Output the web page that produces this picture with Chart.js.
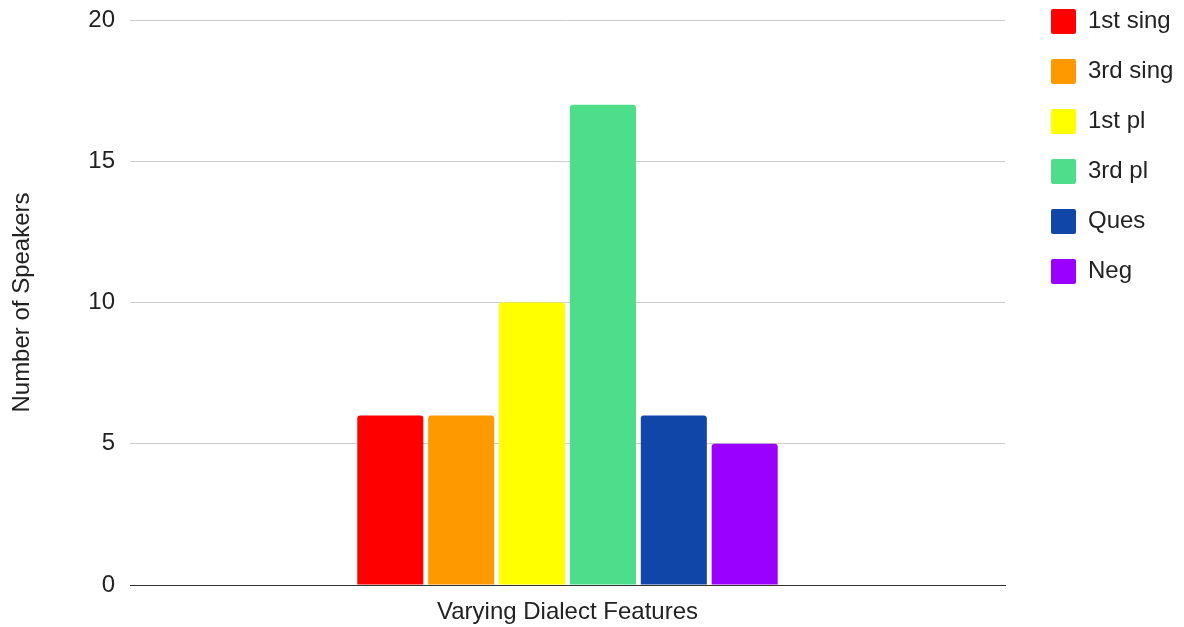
<!DOCTYPE html>
<html>
<head>
<meta charset="utf-8">
<title>Number of Speakers by Dialect Feature</title>
<script src="https://cdn.jsdelivr.net/npm/chart.js@4/dist/chart.umd.min.js"></script>
<style>
  html, body { margin: 0; padding: 0; background: #ffffff; }
  #wrap { width: 1184px; height: 627px; }
</style>
</head>
<body>
<div id="wrap"><canvas id="chart" width="1184" height="627"></canvas></div>
<script>
// Data
const categories = ['Varying Dialect Features'];
const seriesNames = ['1st sing', '3rd sing', '1st pl', '3rd pl', 'Ques', 'Neg'];
const seriesValues = [6, 6, 10, 17, 6, 5];
const seriesColors = ['#ff0000', '#ff9900', '#ffff00', '#4ddd8b', '#1146a9', '#9900ff'];
const yTicks = [0, 5, 10, 15, 20];

const FONT = '"Liberation Sans", Arial, sans-serif';
const TEXT = '#222222';
const FONT_SIZE = 24;

// Places the legend column next to the plot and lines it up with the top.
const legendPlacement = {
  id: 'legendPlacement',
  beforeLayout(chart) {
    const lg = chart.legend;
    if (lg && !lg._fixedWidth) {
      const fit = lg.fit.bind(lg);
      lg.fit = function () { fit(); this.width = 179; };
      lg._fixedWidth = true;
    }
  },
  afterLayout(chart) {
    const lg = chart.legend;
    if (!lg) return;
    const dx = (chart.chartArea.right + 21) - lg.left;
    const dy = -16 - lg.top;
    lg.left += dx; lg.right += dx;
    lg.top += dy; lg.bottom += dy;
  }
};

const datasets = seriesNames.map((name, i) => ({
  label: name,
  data: [seriesValues[i]],
  backgroundColor: seriesColors[i],
  borderWidth: 0,
  borderRadius: { topLeft: 3, topRight: 3, bottomLeft: 0, bottomRight: 0 },
  borderSkipped: 'start',
  categoryPercentage: 0.486,
  barPercentage: 0.932
}));

new Chart(document.getElementById('chart'), {
  type: 'bar',
  data: { labels: categories, datasets },
  options: {
    responsive: false,
    animation: false,
    layout: { padding: { top: 20, left: 0, right: 0, bottom: 0 } },
    plugins: {
      tooltip: { enabled: false },
      legend: {
        position: 'right',
        align: 'start',
        labels: {
          boxWidth: 25,
          boxHeight: 25,
          padding: 25,
          useBorderRadius: true,
          borderRadius: 2,
          color: TEXT,
          font: { family: FONT, size: FONT_SIZE }
        }
      }
    },
    scales: {
      x: {
        afterFit(scale) {
          scale.height = 42;
          scale.paddingLeft = 0;
          scale.paddingRight = 0;
        },
        grid: { display: false, drawTicks: false },
        border: { display: true, color: '#333333', width: 1 },
        ticks: { color: TEXT, padding: 13, font: { family: FONT, size: FONT_SIZE } }
      },
      y: {
        min: yTicks[0],
        max: yTicks[yTicks.length - 1],
        afterFit(scale) {
          scale.width = 130;
          scale.paddingTop = 0;
          scale.paddingBottom = 0;
        },
        afterBuildTicks(scale) { scale.ticks = yTicks.map(v => ({ value: v })); },
        grid: {
          drawTicks: false,
          color: ctx => (ctx.tick && ctx.tick.value === 0 ? '#333333' : '#cccccc'),
          lineWidth: 1
        },
        border: { display: false },
        ticks: { color: TEXT, padding: 15, font: { family: FONT, size: FONT_SIZE } },
        title: {
          display: true,
          text: 'Number of Speakers',
          color: TEXT,
          padding: { top: 8, bottom: 0 },
          font: { family: FONT, size: FONT_SIZE }
        }
      }
    }
  },
  plugins: [legendPlacement]
});
</script>
</body>
</html>
